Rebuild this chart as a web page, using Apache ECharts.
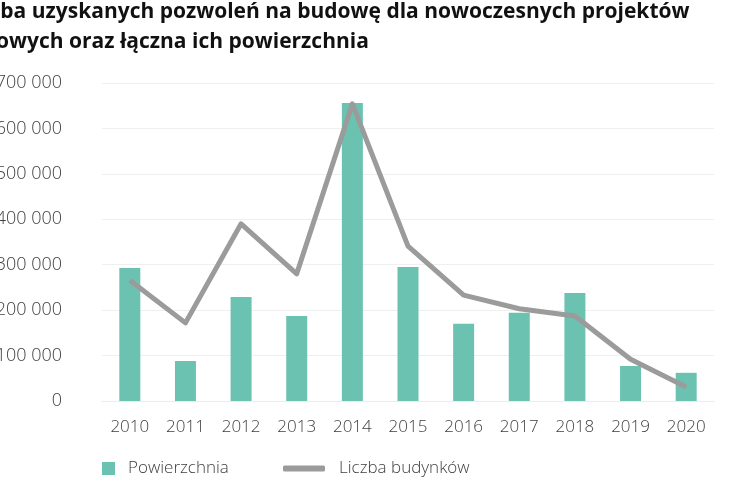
<!DOCTYPE html>
<html>
<head>
<meta charset="utf-8">
<script src="https://cdn.jsdelivr.net/npm/echarts@6/dist/echarts.min.js"></script>
<style>
  html, body { margin: 0; padding: 0; background: #fff; }
  #main { width: 730px; height: 480px; }
</style>
</head>
<body>
<div id="main"></div>
<script>
// lata
var years = ['2010', '2011', '2012', '2013', '2014', '2015', '2016', '2017', '2018', '2019', '2020'];
// łączna powierzchnia (m²)
var powierzchnia = [293000, 88000, 229000, 187000, 656000, 295000, 170000, 194000, 238000, 77000, 62000];
// liczba budynków (oś pomocnicza, ukryta)
var liczbaBudynkow = [26.6, 17.2, 39.0, 28.0, 65.4, 34.1, 23.3, 20.3, 18.7, 9.2, 3.1];
// podziałka osi Y
var yMin = 0, yMax = 700000, yStep = 100000;

var font = 'Open Sans';
var labelColor = '#404040';
var titleStyle = {
    fontFamily: font,
    fontWeight: 'bold',
    fontSize: 21,
    lineHeight: 30,
    color: '#111'
};

var myChart = echarts.init(document.getElementById('main'));
var option = {
    animation: false,
    title: [
        {
            text: 'Liczba uzyskanych pozwoleń na budowę dla nowoczesnych projektów',
            left: -39,
            top: -3,
            padding: 0,
            textStyle: titleStyle
        },
        {
            text: 'biurowych oraz łączna ich powierzchnia',
            left: -47,
            top: 27,
            padding: 0,
            textStyle: titleStyle
        }
    ],
    legend: [
        {
            data: ['Powierzchnia'],
            left: 102,
            top: 460,
            padding: 0,
            icon: 'rect',
            itemWidth: 13,
            itemHeight: 13,
            textStyle: { fontFamily: font, fontWeight: 300, fontSize: 17, color: labelColor, padding: [0, 0, 0, 8] }
        },
        {
            data: ['Liczba budynków'],
            left: 283,
            top: 460,
            padding: 0,
            icon: 'roundRect',
            itemWidth: 42,
            itemHeight: 6,
            textStyle: { fontFamily: font, fontWeight: 300, fontSize: 17, color: labelColor, padding: [0, 0, 0, 9] }
        }
    ],
    grid: {
        left: 102,
        right: 16,
        top: 83,
        bottom: 79,
        outerBoundsMode: 'none'
    },
    xAxis: {
        type: 'category',
        data: years,
        axisTick: { show: false },
        axisLine: { show: true, lineStyle: { color: '#ececec' } },
        axisLabel: { margin: 18, fontFamily: font, fontWeight: 300, fontSize: 17, color: labelColor }
    },
    yAxis: [
        {
            type: 'value',
            min: yMin,
            max: yMax,
            interval: yStep,
            axisLine: { show: false },
            axisTick: { show: false },
            splitLine: { lineStyle: { color: '#efefef' } },
            axisLabel: {
                margin: 40,
                fontFamily: font,
                fontWeight: 300,
                fontSize: 18,
                color: labelColor,
                formatter: function (v) {
                    return String(v).replace(/\B(?=(\d{3})+(?!\d))/g, ' ');
                }
            }
        },
        {
            type: 'value',
            min: 0,
            max: 70,
            show: false,
            splitLine: { show: false }
        }
    ],
    series: [
        {
            name: 'Powierzchnia',
            type: 'bar',
            data: powierzchnia,
            barWidth: 21,
            itemStyle: { color: '#6cc2b1' }
        },
        {
            name: 'Liczba budynków',
            type: 'line',
            yAxisIndex: 1,
            data: liczbaBudynkow,
            showSymbol: false,
            symbol: 'none',
            lineStyle: { color: '#9b9b9b', width: 5, join: 'round' },
            itemStyle: { color: '#9b9b9b' }
        }
    ]
};
myChart.setOption(option);
window.onresize = myChart.resize;
</script>
</body>
</html>
